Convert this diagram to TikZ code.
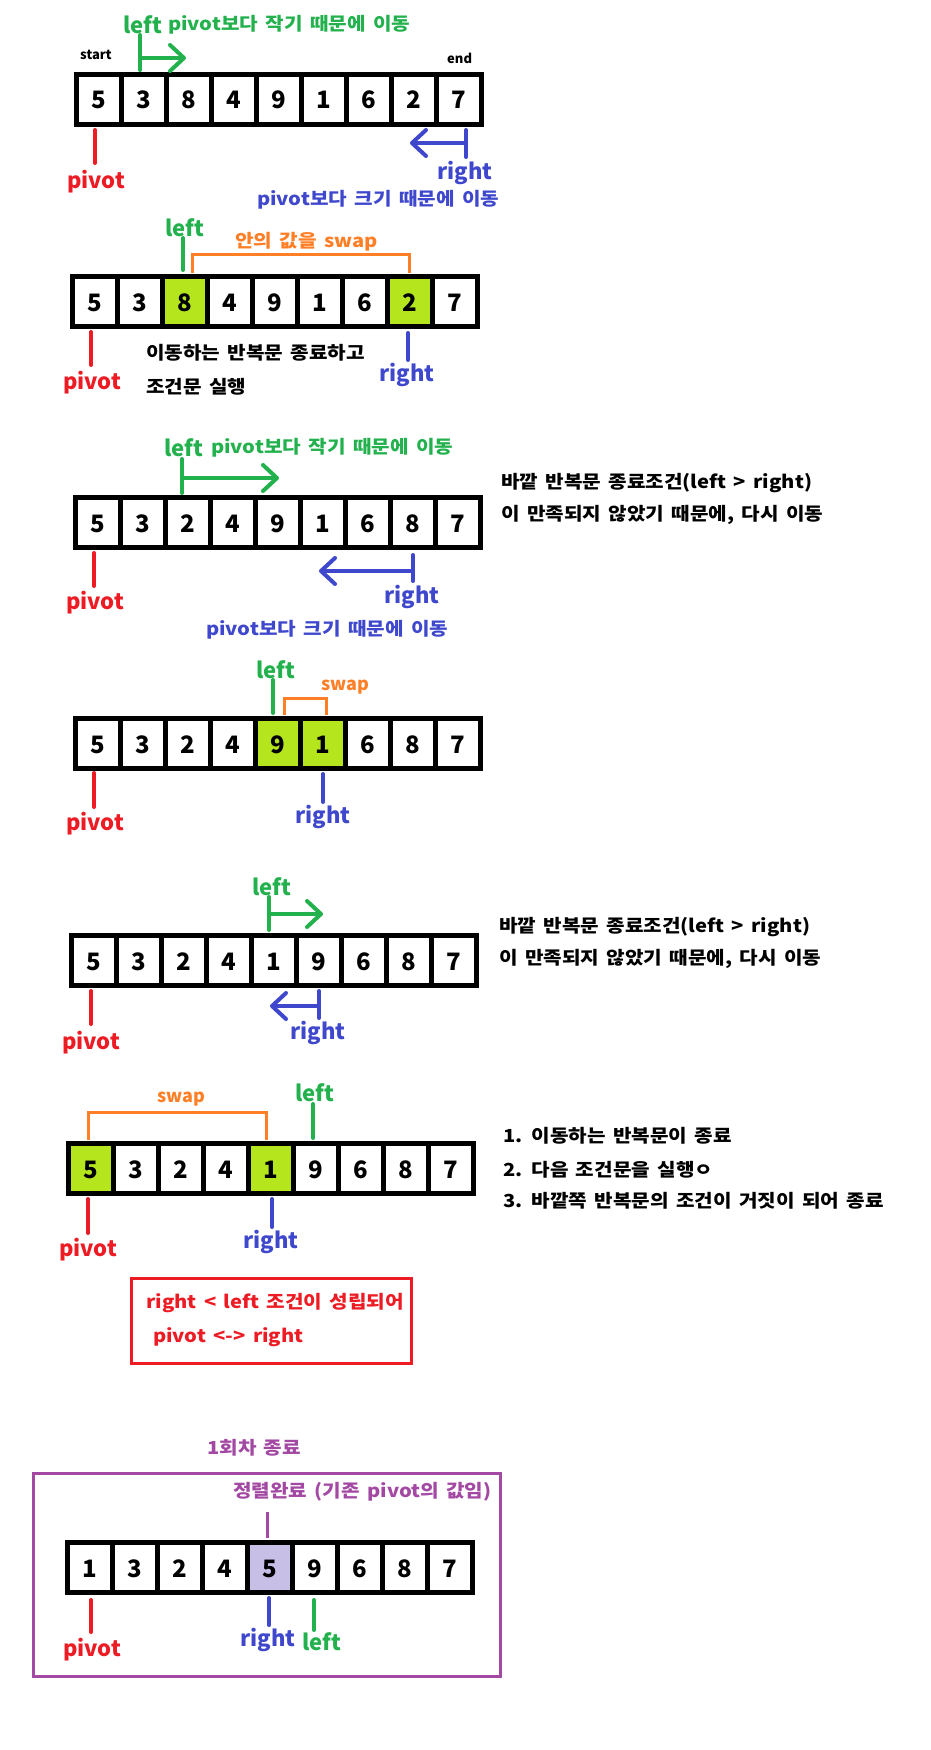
\documentclass[tikz,border=0pt]{standalone}
\usepackage{fontspec}
\setmainfont{Noto Sans CJK KR}
\newfontfamily\krwide{Noto Sans CJK KR}[FakeStretch=1.12, WordSpace=1.6]
\usetikzlibrary{arrows.meta}
\definecolor{pred}{HTML}{ED1C24}
\definecolor{pgreen}{HTML}{22B14C}
\definecolor{pblue}{HTML}{3F48CC}
\definecolor{porange}{HTML}{FF7F27}
\definecolor{plime}{HTML}{B5E61D}
\definecolor{ppurple}{HTML}{A349A4}
\definecolor{plav}{HTML}{C8BFE7}
\tikzset{
  numtxt/.style={font=\fontsize{24}{24}\selectfont\bfseries, anchor=base, inner sep=0pt},
  biglbl/.style={font=\fontsize{22}{22}\selectfont\bfseries, anchor=west, inner sep=0pt},
  txt/.style={font=\krwide\fontsize{18}{18}\selectfont\bfseries, anchor=west, inner sep=0pt},
  lattxt/.style={font=\fontsize{18}{18}\selectfont\bfseries, anchor=west, inner sep=0pt},
  tinytxt/.style={font=\fontsize{13}{13}\selectfont\bfseries, anchor=west, inner sep=0pt},
  gridline/.style={line width=5pt, draw=black},
  marker/.style={line width=4pt, line cap=round},
  mvarrow/.style={line width=4pt, line cap=round, -{Straight Barb[length=14pt,width=26pt,round]}},
  bracket/.style={line width=3pt, draw=porange},
  framebox/.style={line width=3pt},
}
\newcommand\qsarray[4]{%
  \foreach \v [count=\i from 0] in {#4} {
    \node[numtxt] (#1-\i) at ({#2+25+45*\i},{#3+37}) {\v};
  }
  \draw[gridline] ({#2+2.5},{#3+2.5}) rectangle ({#2+407.5},{#3+52.5});
  \foreach \k in {1,...,8} {
    \draw[gridline] ({#2+2.5+45*\k},{#3+2.5}) -- ({#2+2.5+45*\k},{#3+52.5});
  }
}
\newcommand\cellfill[4]{%
  \fill[#4] ({#1+5+45*#3},{#2+5}) rectangle ({#1+45+45*#3},{#2+50});
}
\begin{document}
\begin{tikzpicture}[x=1pt,y=-1pt]
\useasboundingbox[fill=white] (0,0) rectangle (930,1750);

% ---------- step 1 ----------
\qsarray{a}{74}{72}{5,3,8,4,9,1,6,2,7}
\node[tinytxt] (a-start) at (80,55) {start};
\node[tinytxt] (a-end) at (447,58) {end};
\node[biglbl, pgreen] (a-left) at (123,25) {left};
\node[txt, pgreen] (a-ltxt) at (168,25) {pivot보다 작기 때문에 이동};
\draw[marker, pgreen] (140,35) -- (140,70);
\draw[mvarrow, pgreen] (140,58) -- (186,58);
\draw[marker, pred] (95,130) -- (95,163);
\node[biglbl, pred] (a-pivot) at (67,182) {pivot};
\draw[marker, pblue] (466,130) -- (466,157);
\draw[mvarrow, pblue] (466,143) -- (410,143);
\node[biglbl, pblue] (a-right) at (437,173) {right};
\node[txt, pblue] (a-rtxt) at (257,200) {pivot보다 크기 때문에 이동};

% ---------- step 2 ----------
\cellfill{70}{274}{2}{plime}
\cellfill{70}{274}{7}{plime}
\qsarray{b}{70}{274}{5,3,8,4,9,1,6,2,7}
\node[biglbl, pgreen] (b-left) at (165,228) {left};
\draw[marker, pgreen] (183,238) -- (183,270);
\draw[bracket] (192,273) -- (192,254) -- (409,254) -- (409,273);
\node[txt, porange] (b-swap) at (235,242) {안의 값을 swap};
\draw[marker, pred] (91,332) -- (91,365);
\node[biglbl, pred] (b-pivot) at (63,383) {pivot};
\draw[marker, pblue] (408,333) -- (408,360);
\node[biglbl, pblue] (b-right) at (379,375) {right};
\node[txt] (b-t1) at (146,353) {이동하는 반복문 종료하고};
\node[txt] (b-t2) at (146,387) {조건문 실행};

% ---------- step 3 ----------
\qsarray{c}{73}{495}{5,3,2,4,9,1,6,8,7}
\node[biglbl, pgreen] (c-left) at (164,448) {left};
\node[txt, pgreen] (c-ltxt) at (211,448) {pivot보다 작기 때문에 이동};
\draw[marker, pgreen] (182,459) -- (182,493);
\draw[mvarrow, pgreen] (182,478) -- (279,478);
\draw[marker, pred] (94,553) -- (94,586);
\node[biglbl, pred] (c-pivot) at (66,603) {pivot};
\draw[marker, pblue] (413,555) -- (413,581);
\draw[mvarrow, pblue] (413,571) -- (319,571);
\node[biglbl, pblue] (c-right) at (384,597) {right};
\node[txt, pblue] (c-rtxt) at (206,630) {pivot보다 크기 때문에 이동};
\node[txt] (c-n1) at (501,483) {바깥 반복문 종료조건(left > right)};
\node[txt] (c-n2) at (501,515) {이 만족되지 않았기 때문에, 다시 이동};

% ---------- step 4 ----------
\cellfill{73}{716}{4}{plime}
\cellfill{73}{716}{5}{plime}
\qsarray{d}{73}{716}{5,3,2,4,9,1,6,8,7}
\node[biglbl, pgreen] (d-left) at (256,670) {left};
\draw[marker, pgreen] (273,680) -- (273,713);
\draw[bracket] (284,715) -- (284,698) -- (326,698) -- (326,715);
\node[lattxt, porange] (d-swap) at (321,687) {swap};
\draw[marker, pred] (94,773) -- (94,807);
\node[biglbl, pred] (d-pivot) at (66,824) {pivot};
\draw[marker, pblue] (323,774) -- (323,802);
\node[biglbl, pblue] (d-right) at (295,817) {right};

% ---------- step 5 ----------
\qsarray{e}{69}{933}{5,3,2,4,1,9,6,8,7}
\node[biglbl, pgreen] (e-left) at (252,887) {left};
\draw[marker, pgreen] (269,897) -- (269,930);
\draw[mvarrow, pgreen] (269,914) -- (323,914);
\draw[marker, pred] (91,991) -- (91,1024);
\node[biglbl, pred] (e-pivot) at (62,1043) {pivot};
\draw[marker, pblue] (319,991) -- (319,1018);
\draw[mvarrow, pblue] (319,1006) -- (270,1006);
\node[biglbl, pblue] (e-right) at (290,1033) {right};
\node[txt] (e-n1) at (499,927) {바깥 반복문 종료조건(left > right)};
\node[txt] (e-n2) at (499,959) {이 만족되지 않았기 때문에, 다시 이동};

% ---------- step 6 ----------
\cellfill{66}{1141}{0}{plime}
\cellfill{66}{1141}{4}{plime}
\qsarray{f}{66}{1141}{5,3,2,4,1,9,6,8,7}
\draw[bracket] (88,1140) -- (88,1112) -- (266,1112) -- (266,1140);
\node[lattxt, porange] (f-swap) at (157,1099) {swap};
\node[biglbl, pgreen] (f-left) at (295,1093) {left};
\draw[marker, pgreen] (313,1104) -- (313,1138);
\draw[marker, pred] (88,1199) -- (88,1233);
\node[biglbl, pred] (f-pivot) at (59,1250) {pivot};
\draw[marker, pblue] (272,1199) -- (272,1227);
\node[biglbl, pblue] (f-right) at (243,1242) {right};
\draw[framebox, pred] (131,1278) rectangle (411,1363);
\node[txt, pred] (f-c1) at (146,1303) {right < left 조건이 성립되어};
\node[txt, pred] (f-c2) at (153,1337) {pivot <-> right};
\node[txt] (f-l1) at (503,1136) {1. 이동하는 반복문이 종료};
\node[txt] (f-l2) at (503,1170) {2. 다음 조건문을 실행ㅇ};
\node[txt] (f-l3) at (503,1201) {3. 바깥쪽 반복문의 조건이 거짓이 되어 종료};

% ---------- final ----------
\node[txt, ppurple] (g-title) at (207,1448) {1회차 종료};
\draw[framebox, ppurple] (33,1473) rectangle (500,1676);
\cellfill{65}{1540}{4}{plav}
\qsarray{g}{65}{1540}{1,3,2,4,5,9,6,8,7}
\node[txt, ppurple] (g-sorted) at (233,1492) {정렬완료 (기존 pivot의 값임)};
\draw[line width=3pt, ppurple] (267,1512) -- (267,1538);
\draw[marker, pred] (91,1600) -- (91,1632);
\node[biglbl, pred] (g-pivot) at (63,1650) {pivot};
\draw[marker, pblue] (269,1598) -- (269,1625);
\node[biglbl, pblue] (g-right) at (240,1640) {right};
\draw[marker, pgreen] (314,1600) -- (314,1630);
\node[biglbl, pgreen] (g-left) at (302,1642) {left};
\end{tikzpicture}
\end{document}
